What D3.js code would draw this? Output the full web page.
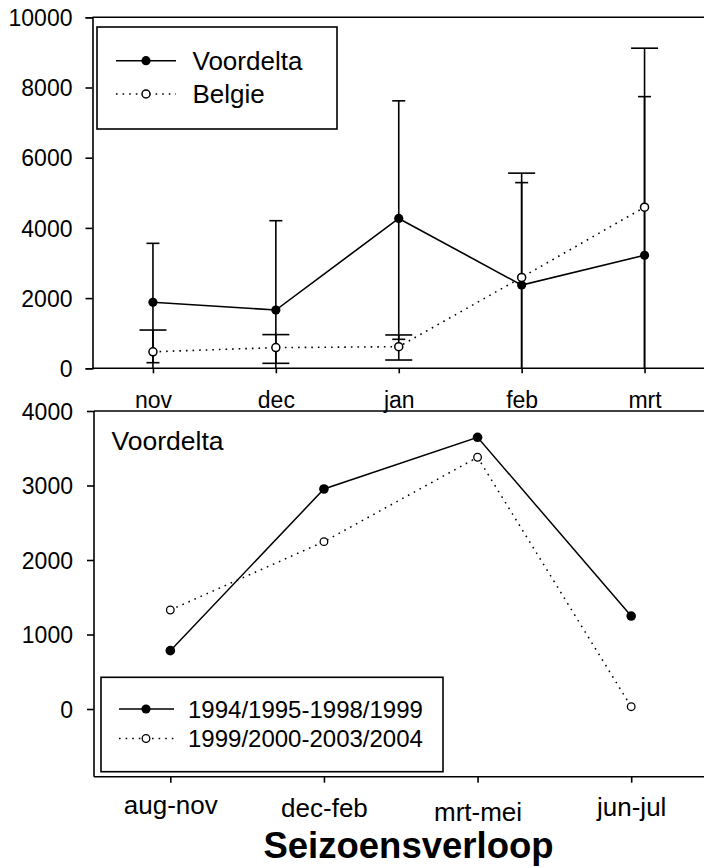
<!DOCTYPE html>
<html>
<head>
<meta charset="utf-8">
<script src="https://cdn.jsdelivr.net/npm/d3@7"></script>
<style>
  html, body { margin: 0; padding: 0; background: #fff; }
  svg { display: block; }
  text { font-family: "Liberation Sans", Arial, sans-serif; fill: #000; }
</style>
</head>
<body>
<svg id="chart" width="704" height="868"></svg>
<script>
// ---------- DATA ----------
const months = ["nov", "dec", "jan", "feb", "mrt"];
const voordelta = [1880, 1660, 4270, 2370, 3220];
const voordeltaHigh = [3560, 4205, 7620, 5290, 7740];
const voordeltaLow = [160, 0, 826, 0, 0];
const belgie = [470, 590, 615, 2590, 4590];
const belgieHigh = [1090, 960, 950, 5560, 9120];
const belgieLow = [0, 142, 236, 0, 0];
const topTicks = [0, 2000, 4000, 6000, 8000, 10000];
const topLegend = ["Voordelta", "Belgie"];

const seasons = ["aug-nov", "dec-feb", "mrt-mei", "jun-jul"];
const period1 = [783, 2953, 3647, 1248];
const period2 = [1329, 2246, 3379, 31];
const bottomTicks = [0, 1000, 2000, 3000, 4000];
const bottomLegend = ["1994/1995-1998/1999", "1999/2000-2003/2004"];
const bottomLabelShift = [-4, -1, 3, -2];
const panelLabel = "Voordelta";
const xTitle = "Seizoensverloop";

// ---------- SETUP ----------
const svg = d3.select("#chart");
const W = 704;
const DOT = "1.6,5";

// ================= TOP PANEL =================
const tL = 92.5, tT = 17.3, tB = 368.3;
const xT = d3.scalePoint().domain(months).range([91.5, 706]).padding(0.5);
const yT = d3.scaleLinear().domain([0, 10000]).range([tB, tT]);
const gTop = svg.append("g");

gTop.append("line").attr("x1", tL).attr("x2", W).attr("y1", tT).attr("y2", tT)
  .attr("stroke", "#000").attr("stroke-width", 1.6);

const yAxT = gTop.append("g").attr("transform", `translate(${tL},0)`)
  .call(d3.axisLeft(yT).tickValues(topTicks).tickSize(7).tickPadding(13).tickFormat(d3.format("d")));
const xAxT = gTop.append("g").attr("transform", `translate(0,${tB})`)
  .call(d3.axisBottom(xT).tickSize(5).tickPadding(18));
xAxT.select(".domain").attr("d", `M${tL},0H${W}`);
[yAxT, xAxT].forEach(a => {
  a.selectAll("path,line").attr("stroke", "#000").attr("stroke-width", 1.6);
  a.selectAll("text").style("font-size", "23px").attr("fill", "#000");
});
yAxT.selectAll("text").attr("dy", "0.36em");

function errBars(g, x, y, cats, lows, highs, capW) {
  cats.forEach((c, i) => {
    const cx = x(c);
    g.append("line").attr("x1", cx).attr("x2", cx)
      .attr("y1", y(lows[i])).attr("y2", y(highs[i]))
      .attr("stroke", "#000").attr("stroke-width", 1.6);
    g.append("line").attr("x1", cx - capW / 2).attr("x2", cx + capW / 2)
      .attr("y1", y(highs[i])).attr("y2", y(highs[i]))
      .attr("stroke", "#000").attr("stroke-width", 1.6);
    if (lows[i] > 0) {
      g.append("line").attr("x1", cx - capW / 2).attr("x2", cx + capW / 2)
        .attr("y1", y(lows[i])).attr("y2", y(lows[i]))
        .attr("stroke", "#000").attr("stroke-width", 1.6);
    }
  });
}
errBars(gTop, xT, yT, months, belgieLow, belgieHigh, 27);
errBars(gTop, xT, yT, months, voordeltaLow, voordeltaHigh, 13);

const lineT = d3.line().x((d, i) => xT(months[i])).y(d => yT(d));
gTop.append("path").datum(belgie).attr("d", lineT).attr("fill", "none")
  .attr("stroke", "#000").attr("stroke-width", 1.6).attr("stroke-dasharray", DOT);
gTop.append("path").datum(voordelta).attr("d", lineT).attr("fill", "none")
  .attr("stroke", "#000").attr("stroke-width", 1.6);
gTop.selectAll(".vd").data(voordelta).enter().append("circle")
  .attr("cx", (d, i) => xT(months[i])).attr("cy", d => yT(d)).attr("r", 4.6).attr("fill", "#000");
gTop.selectAll(".bg").data(belgie).enter().append("circle")
  .attr("cx", (d, i) => xT(months[i])).attr("cy", d => yT(d)).attr("r", 4).attr("fill", "#fff")
  .attr("stroke", "#000").attr("stroke-width", 1.5);

const lg = gTop.append("g");
lg.append("rect").attr("x", 97).attr("y", 27).attr("width", 240).attr("height", 102)
  .attr("fill", "#fff").attr("stroke", "#000").attr("stroke-width", 1.6);
topLegend.forEach((name, i) => {
  const ly = 60.7 + i * 33.3;
  lg.append("line").attr("x1", 116).attr("x2", 176).attr("y1", ly).attr("y2", ly)
    .attr("stroke", "#000").attr("stroke-width", 1.6).attr("stroke-dasharray", i ? DOT : null);
  lg.append("circle").attr("cx", 146).attr("cy", ly).attr("r", i ? 4 : 4.6)
    .attr("fill", i ? "#fff" : "#000").attr("stroke", "#000").attr("stroke-width", i ? 1.5 : 0);
  lg.append("text").attr("x", 192.5).attr("y", ly).attr("dy", "0.36em")
    .style("font-size", "26px").text(name);
});

// ================= BOTTOM PANEL =================
const bL = 94, bT = 411, bB = 776.7;
const xB = d3.scalePoint().domain(seasons).range([93.5, 708]).padding(0.5);
const yB = d3.scaleLinear().domain([0, 4000]).range([709, bT]);
const gBot = svg.append("g");

gBot.append("line").attr("x1", bL).attr("x2", W).attr("y1", bT).attr("y2", bT)
  .attr("stroke", "#000").attr("stroke-width", 1.6);
const yAxB = gBot.append("g").attr("transform", `translate(${bL},0)`)
  .call(d3.axisLeft(yB).tickValues(bottomTicks).tickSize(7).tickPadding(14).tickFormat(d3.format("d")));
yAxB.select(".domain").attr("d", `M0,${bT}V${bB}`);
const xAxB = gBot.append("g").attr("transform", `translate(0,${bB})`)
  .call(d3.axisBottom(xB).tickSize(6).tickPadding(17));
xAxB.select(".domain").attr("d", `M${bL},0H${W}`);
[yAxB, xAxB].forEach(a => {
  a.selectAll("path,line").attr("stroke", "#000").attr("stroke-width", 1.6);
  a.selectAll("text").style("font-size", "23px").attr("fill", "#000");
});
yAxB.selectAll("text").attr("dy", "0.36em");
xAxB.selectAll("text").style("font-size", "26px")
  .attr("transform", (d, i) => `translate(0,${bottomLabelShift[i]})`);

gBot.append("text").attr("x", 111.5).attr("y", 450).style("font-size", "26.5px").text(panelLabel);

const lineB = d3.line().x((d, i) => xB(seasons[i])).y(d => yB(d));
gBot.append("path").datum(period2).attr("d", lineB).attr("fill", "none")
  .attr("stroke", "#000").attr("stroke-width", 1.5).attr("stroke-dasharray", DOT);
gBot.append("path").datum(period1).attr("d", lineB).attr("fill", "none")
  .attr("stroke", "#000").attr("stroke-width", 1.5);
gBot.selectAll(".p1").data(period1).enter().append("circle")
  .attr("cx", (d, i) => xB(seasons[i])).attr("cy", d => yB(d)).attr("r", 4.8).attr("fill", "#000");
gBot.selectAll(".p2").data(period2).enter().append("circle")
  .attr("cx", (d, i) => xB(seasons[i])).attr("cy", d => yB(d)).attr("r", 3.8).attr("fill", "#fff")
  .attr("stroke", "#000").attr("stroke-width", 1.3);

const lb = gBot.append("g");
lb.append("rect").attr("x", 101).attr("y", 677.3).attr("width", 342).attr("height", 94.4)
  .attr("fill", "#fff").attr("stroke", "#000").attr("stroke-width", 1.6);
bottomLegend.forEach((name, i) => {
  const ly = 709 + i * 29.5;
  lb.append("line").attr("x1", 119).attr("x2", 174).attr("y1", ly).attr("y2", ly)
    .attr("stroke", "#000").attr("stroke-width", 1.5).attr("stroke-dasharray", i ? DOT : null);
  lb.append("circle").attr("cx", 146).attr("cy", ly).attr("r", i ? 3.8 : 4.6)
    .attr("fill", i ? "#fff" : "#000").attr("stroke", "#000").attr("stroke-width", i ? 1.3 : 0);
  lb.append("text").attr("x", 188).attr("y", ly).attr("dy", "0.36em")
    .style("font-size", "24px").text(name);
});

svg.append("text").attr("x", 408.5).attr("y", 858).attr("text-anchor", "middle")
  .style("font-size", "36.5px").style("font-weight", "bold").text(xTitle);
</script>
</body>
</html>
